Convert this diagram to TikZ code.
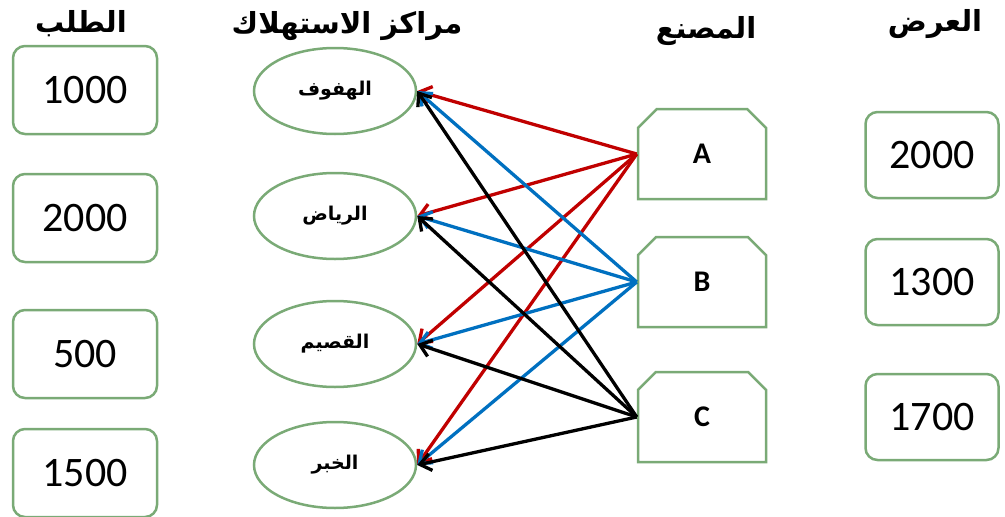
\documentclass[tikz,border=0pt]{standalone}
\usepackage{fontspec}
\setmainfont{Carlito}
\newfontfamily\arabicfont[Script=Arabic]{DejaVu Sans}
\TeXXeTstate=1
\usetikzlibrary{arrows.meta,positioning,shapes.geometric,shapes.misc}

\definecolor{boxgreen}{RGB}{122,170,118}
\definecolor{flowred}{RGB}{192,0,0}
\definecolor{flowblue}{RGB}{0,112,192}
\newcommand{\artext}[1]{{\arabicfont\beginR #1\endR}}

\begin{document}
\begin{tikzpicture}
      [x=1pt, y=-1pt, line width=2.5pt, >={Straight Barb[length=11pt,width=17pt]},
      numbox/.style={rectangle, draw=boxgreen, rounded corners=12pt,
        minimum width=144pt, minimum height=88pt,
        font=\fontsize{42}{46}\selectfont},
      city/.style={ellipse, draw=boxgreen, minimum width=162pt,
        minimum height=86pt, inner sep=0pt,
        font=\bfseries\fontsize{19}{21}\selectfont},
      plant/.style={chamfered rectangle, draw=boxgreen,
        chamfered rectangle corners={north west,north east},
        chamfered rectangle xsep=17pt, chamfered rectangle ysep=14pt,
        minimum width=128pt, minimum height=90pt, inner sep=0pt,
        font=\bfseries\fontsize{30}{32}\selectfont},
      header/.style={font=\bfseries\fontsize{29}{34}\selectfont},
      flow/.style={->, line width=3.3pt}]

      \useasboundingbox (0,0) rectangle (1005,517);

      % column titles
      \node [header] (demandhead) at (81,24)  {\artext{الطلب}};
      \node [header] (centrehead) at (347,26) {\artext{مراكز الاستهلاك}};
      \node [header] (planthead)  at (706,31) {\artext{المصنع}};
      \node [header] (supplyhead) at (935,24) {\artext{العرض}};

      % demand
      \node [numbox] (d1) at (85,90)  {1000};
      \node [numbox] (d2) at (85,218) {2000};
      \node [numbox] (d3) at (85,354) {500};
      \node [numbox] (d4) at (85,473) {1500};

      % consumption centres
      \node [city] (hofuf)  at (335,91)  {\artext{الهفوف}};
      \node [city] (riyadh) at (335,216) {\artext{الرياض}};
      \node [city] (qassim) at (335,344) {\artext{القصيم}};
      \node [city] (khobar) at (335,465) {\artext{الخبر}};

      % plants
      \node [plant] (A) at (702,154) {A};
      \node [plant] (B) at (702,282) {B};
      \node [plant] (C) at (702,417) {C};

      % supply
      \node [numbox, minimum width=133pt, minimum height=86pt] (s1) at (932,155) {2000};
      \node [numbox, minimum width=133pt, minimum height=86pt] (s2) at (932,282) {1300};
      \node [numbox, minimum width=133pt, minimum height=86pt] (s3) at (932,417) {1700};

      % shipments
      \path (A.west) edge [flow, flowred] (hofuf.east)
                     edge [flow, flowred] (riyadh.east)
                     edge [flow, flowred] (qassim.east)
                     edge [flow, flowred] (khobar.east);
      \path (B.west) edge [flow, flowblue] (hofuf.east)
                     edge [flow, flowblue] (riyadh.east)
                     edge [flow, flowblue] (qassim.east)
                     edge [flow, flowblue] (khobar.east);
      \path (C.west) edge [flow] (hofuf.east)
                     edge [flow] (riyadh.east)
                     edge [flow] (qassim.east)
                     edge [flow] (khobar.east);
    \end{tikzpicture}
\end{document}
